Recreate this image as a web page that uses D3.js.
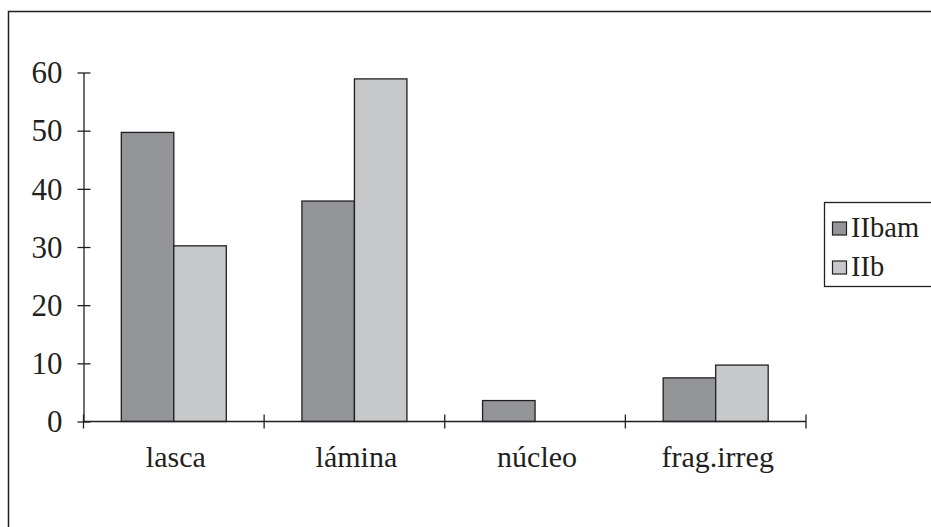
<!DOCTYPE html>
<html><head><meta charset="utf-8">
<script src="https://cdn.jsdelivr.net/npm/d3@7"></script>
<style>html,body{margin:0;padding:0;background:#fff;overflow:hidden} text{font-family:"Liberation Serif","Times New Roman",serif}</style>
</head><body>
<svg id="c" width="931" height="527"></svg>
<script>
const categories = ["lasca", "lámina", "núcleo", "frag.irreg"];
const seriesNames = ["IIbam", "IIb"];
const IIbam = [49.7, 37.9, 3.6, 7.5];
const IIb = [30.2, 58.9, 0, 9.7];
const yTicks = [0, 10, 20, 30, 40, 50, 60];
const seriesValues = [IIbam, IIb];
const colors = ["#939598", "#c7c8ca"];
const ink = "#231f20";
const font = "Liberation Serif";

const svg = d3.select("#c");
// outer frame (only top and left visible)
svg.append("rect").attr("x", 8.5).attr("y", 11.5).attr("width", 1000).attr("height", 1000)
  .attr("fill", "none").attr("stroke", ink).attr("stroke-width", 1.5);

const x0 = d3.scaleBand().domain(categories).range([83.5, 806]).paddingInner(0).paddingOuter(0);
const x1 = d3.scaleBand().domain(seriesNames).range([0, x0.bandwidth()]).paddingInner(0).paddingOuter(0.72);
const y = d3.scaleLinear().domain([0, 60]).range([421.5, 72.5]);

// bars
categories.forEach((c, i) => {
  seriesNames.forEach((s, j) => {
    const v = seriesValues[j][i];
    if (v <= 0) return;
    svg.append("rect")
      .attr("x", x0(c) + x1(s)).attr("y", y(v))
      .attr("width", x1.bandwidth()).attr("height", y(0) - y(v))
      .attr("fill", colors[j]).attr("stroke", ink).attr("stroke-width", 1.3);
  });
});

// y axis
const yAxis = d3.axisLeft(y).tickValues(yTicks).tickSizeInner(6).tickSizeOuter(0).tickPadding(15);
const gy = svg.append("g").attr("transform", "translate(83.5,0)").call(yAxis);
gy.attr("font-family", null).attr("font-size", null);
gy.select(".domain").attr("stroke", ink).attr("stroke-width", 1.3);
gy.selectAll(".tick line").attr("stroke", ink).attr("stroke-width", 1.3).attr("x2", -6).attr("x1", 7);
gy.selectAll(".tick text").attr("fill", ink).style("font-family", font).style("font-size", "31px")
  .attr("x", -21).attr("dy", "0.33em");

// x axis (category boundaries as ticks)
const gx = svg.append("g").attr("transform", `translate(0,${y(0)})`);
gx.append("line").attr("x1", 83.5).attr("x2", 806).attr("stroke", ink).attr("stroke-width", 1.3);
const bounds = categories.map(c => x0(c)).concat([x0(categories[categories.length - 1]) + x0.bandwidth()]);
gx.selectAll("line.tk").data(bounds).enter().append("line").attr("class", "tk")
  .attr("x1", d => d).attr("x2", d => d).attr("y1", -7).attr("y2", 7)
  .attr("stroke", ink).attr("stroke-width", 1.3);
gx.selectAll("text").data(categories).enter().append("text")
  .attr("x", d => x0(d) + x0.bandwidth() / 2 + 2).attr("y", 45.5)
  .attr("text-anchor", "middle").attr("fill", ink).style("font-family", font).style("font-size", "30px")
  .text(d => d);

// legend
const lg = svg.append("g");
lg.append("rect").attr("x", 824.5).attr("y", 202.5).attr("width", 200).attr("height", 84)
  .attr("fill", "#fff").attr("stroke", ink).attr("stroke-width", 1.3);
seriesNames.forEach((s, j) => {
  const yy = 222 + j * 39;
  lg.append("rect").attr("x", 832.5).attr("y", yy).attr("width", 14).attr("height", 13)
    .attr("fill", colors[j]).attr("stroke", ink).attr("stroke-width", 1.2);
  lg.append("text").attr("x", 851).attr("y", yy + 14.5).attr("fill", ink)
    .style("font-family", font).style("font-size", "28.5px").text(s);
});
</script>
</body></html>
